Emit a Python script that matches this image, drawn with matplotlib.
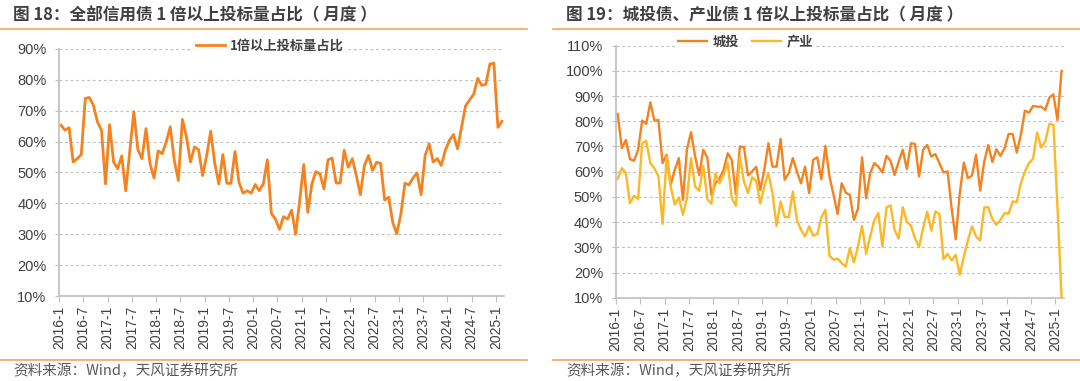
import matplotlib
matplotlib.use("Agg")
import matplotlib.pyplot as plt
from matplotlib.lines import Line2D
from matplotlib.ticker import FuncFormatter

plt.rcParams['font.family'] = ['Liberation Sans', 'Noto Sans CJK SC', 'DejaVu Sans']

# ---------------- data ----------------
months = [f"{y}-{m}" for y in range(2016, 2026) for m in range(1, 13)][:110]  # 2016-1 .. 2025-2
tick_labels = [f"{y}-{m}" for y in range(2016, 2026) for m in (1, 7)][:19]

all_credit = [65.3, 63.7, 64.5, 53.4, 54.5, 55.8, 74.0, 74.3, 71.8, 66.4,
              63.7, 46.3, 65.5, 53.4, 51.2, 55.4, 44.1, 57.0, 69.7, 57.4,
              54.5, 64.2, 52.8, 48.2, 57.0, 56.1, 59.9, 64.8, 53.9, 47.4,
              67.2, 61.5, 53.4, 58.3, 57.4, 49.0, 55.5, 63.4, 53.0, 46.3,
              55.8, 46.5, 46.5, 56.8, 46.8, 43.3, 44.1, 43.3, 46.1, 44.1,
              46.3, 54.1, 36.7, 34.9, 31.6, 35.7, 34.9, 37.8, 30.0, 41.0,
              52.6, 37.1, 46.3, 50.3, 49.6, 44.7, 54.1, 54.7, 46.6, 46.6,
              57.2, 51.7, 54.5, 49.0, 42.8, 52.3, 55.5, 50.7, 53.3, 53.0,
              41.1, 42.0, 33.8, 30.2, 36.5, 46.5, 46.0, 48.2, 49.9, 42.8,
              55.5, 59.3, 53.4, 54.5, 52.3, 57.2, 60.4, 62.3, 57.7, 64.6,
              71.6, 73.5, 75.3, 80.5, 78.2, 78.6, 85.1, 85.4, 64.6, 66.6]

chengtou = [82.9, 69.3, 72.6, 65.0, 64.3, 68.7, 80.3, 79.0, 87.5, 80.3,
            80.5, 63.4, 66.7, 54.8, 60.7, 65.4, 48.8, 68.9, 75.7, 66.0,
            58.7, 68.7, 65.6, 50.8, 55.4, 57.4, 60.7, 67.3, 64.7, 51.1,
            70.0, 69.7, 58.5, 60.1, 62.0, 52.8, 60.7, 71.3, 62.0, 62.0,
            73.0, 56.8, 59.4, 65.4, 60.1, 55.4, 62.0, 51.5, 64.7, 65.7,
            57.0, 70.2, 58.1, 50.8, 43.2, 55.4, 51.7, 50.8, 40.9, 45.3,
            65.7, 49.5, 59.4, 63.4, 62.0, 59.7, 66.3, 64.3, 58.7, 64.0,
            68.7, 61.0, 71.3, 71.0, 58.1, 68.7, 70.6, 66.0, 67.0, 63.4,
            59.7, 60.1, 45.5, 33.2, 51.5, 63.6, 57.4, 58.5, 66.7, 52.5,
            64.0, 70.6, 63.8, 68.9, 66.3, 69.3, 75.0, 74.9, 67.6, 74.6,
            84.2, 83.4, 86.1, 85.8, 85.8, 84.5, 89.4, 90.7, 80.5, 100.0]

chanye = [57.2, 61.4, 59.4, 47.5, 50.4, 49.2, 71.3, 72.2, 63.4, 61.4,
          58.1, 39.3, 66.0, 54.1, 46.9, 49.8, 42.9, 49.5, 65.4, 54.1,
          52.4, 62.3, 49.1, 47.3, 59.4, 55.4, 58.7, 63.4, 49.5, 46.5,
          65.7, 56.1, 51.5, 57.8, 56.4, 47.4, 54.1, 59.4, 51.5, 38.5,
          48.2, 42.0, 42.0, 52.1, 40.9, 36.9, 34.3, 38.3, 34.6, 35.2,
          41.8, 44.9, 26.6, 25.1, 25.5, 23.7, 22.4, 29.7, 24.0, 30.3,
          38.5, 27.4, 34.3, 40.6, 43.6, 30.3, 45.8, 46.6, 36.9, 33.4,
          45.9, 40.1, 38.6, 33.6, 30.1, 37.6, 44.2, 36.6, 44.2, 43.2,
          25.3, 27.4, 24.8, 27.0, 19.1, 26.4, 32.7, 38.3, 34.3, 32.7,
          45.8, 45.9, 41.2, 38.9, 40.9, 43.6, 43.3, 48.2, 47.9, 55.4,
          60.1, 63.4, 65.1, 75.5, 69.6, 72.0, 79.0, 78.6, 46.0, 10.0]

series_left_name = "1倍以上投标量占比"
series_right_names = ["城投", "产业"]
title_left = "图 18：全部信用债 1 倍以上投标量占比（ 月度 ）"
title_right = "图 19：城投债、产业债 1 倍以上投标量占比（ 月度 ）"
source_text = "资料来源：Wind，天风证券研究所"

# ---------------- style ----------------
ORANGE = "#F5821F"
YELLOW = "#FDB827"
GRID = "#BFBFBF"
AXIS = "#BFBFBF"
TEXT = "#404040"
RULE = "#F7A45E"
CJK = ['Noto Sans CJK SC', 'DejaVu Sans']

fig = plt.figure(figsize=(10.8, 3.81), dpi=100)

ax1 = fig.add_axes([59/1080, 1-296/381, 445/1080, 247/381])
ax2 = fig.add_axes([615.7/1080, 1-297.7/381, 447.9/1080, 252/381])

x = list(range(len(months)))
tick_pos = [i - 0.5 for i in range(0, len(months), 6)][:len(tick_labels)]

def style_axes(ax, ymin, ymax):
    ax.set_xlim(-0.5, len(months) - 0.5)
    ax.set_ylim(ymin, ymax)
    ax.set_yticks(list(range(ymin, ymax + 1, 10)))
    ax.yaxis.set_major_formatter(FuncFormatter(lambda v, p: f"{int(round(v))}%"))
    ax.set_xticks(tick_pos)
    ax.set_xticklabels(tick_labels, rotation=90, fontsize=10, color=TEXT)
    for lab in ax.get_yticklabels():
        lab.set_fontsize(10.5)
        lab.set_color(TEXT)
    ax.grid(axis='y', color=GRID, linestyle=(0, (2.5, 2.5)), linewidth=0.8)
    ax.set_axisbelow(True)
    for s in ('top', 'right'):
        ax.spines[s].set_visible(False)
    for s in ('left', 'bottom'):
        ax.spines[s].set_color(AXIS)
        ax.spines[s].set_linewidth(1.2)
    ax.tick_params(axis='x', length=4, color=AXIS, pad=3)
    ax.tick_params(axis='y', length=3, color=AXIS, pad=6)

style_axes(ax1, 10, 90)
style_axes(ax2, 10, 110)

ax1.plot(x, all_credit, color=ORANGE, linewidth=2.0, label=series_left_name, solid_joinstyle='round')
ax2.plot(x, chengtou, color=ORANGE, linewidth=1.7, label=series_right_names[0], solid_joinstyle='round')
ax2.plot(x, chanye, color=YELLOW, linewidth=1.7, label=series_right_names[1], solid_joinstyle='round')

leg1 = ax1.legend(loc='center', bbox_to_anchor=(0.474, 1.012), frameon=True, fancybox=False,
                  handlelength=2.2, handletextpad=0.4, borderpad=0.2,
                  prop={'family': CJK, 'weight': 'bold', 'size': 9.5})
leg1.get_frame().set_facecolor('white')
leg1.get_frame().set_edgecolor('none')
for t in leg1.get_texts():
    t.set_color(TEXT)

leg2 = ax2.legend(loc='center', bbox_to_anchor=(0.29, 1.015), ncol=2, frameon=True, fancybox=False,
                  handlelength=2.2, handletextpad=0.4, columnspacing=1.0, borderpad=0.2,
                  prop={'family': CJK, 'weight': 'bold', 'size': 9.5})
leg2.get_frame().set_facecolor('white')
leg2.get_frame().set_edgecolor('none')
for t in leg2.get_texts():
    t.set_color(TEXT)

# titles
fig.text(13/1080, 1-15/381, title_left, fontsize=12, fontweight='bold', color=TEXT,
         family=CJK, va='center', ha='left')
fig.text(566/1080, 1-15/381, title_right, fontsize=12, fontweight='bold', color=TEXT,
         family=CJK, va='center', ha='left')

# rules
fig.add_artist(Line2D([0/1080, 527/1080], [1-28.5/381]*2, color=RULE, linewidth=1.2))
fig.add_artist(Line2D([553/1080, 1080/1080], [1-28.5/381]*2, color=RULE, linewidth=1.2))
fig.add_artist(Line2D([0/1080, 527/1080], [1-360/381]*2, color=RULE, linewidth=1.2))
fig.add_artist(Line2D([553/1080, 1080/1080], [1-360/381]*2, color=RULE, linewidth=1.2))

# sources
fig.text(13/1080, 1-371/381, source_text, fontsize=10.5, color="#595959", family=CJK,
         va='center', ha='left')
fig.text(566/1080, 1-371/381, source_text, fontsize=10.5, color="#595959", family=CJK,
         va='center', ha='left')

fig.savefig("out.png", dpi=100, facecolor='white')
